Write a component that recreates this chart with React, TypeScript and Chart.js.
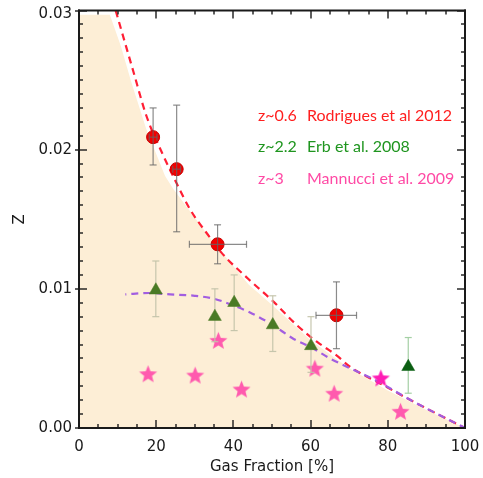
import React, { useEffect, useRef } from 'react';
import { Chart, registerables } from 'chart.js';

Chart.register(...registerables);

// Rodrigues et al 2012 (z~0.6)
const rodX = [19.2, 25.3, 35.9, 66.7];
const rodZ = [0.0209, 0.0186, 0.0132, 0.0081];
const rodXLo = [18.2, 24.3, 28.6, 61.4];
const rodXHi = [20.2, 26.3, 43.4, 71.9];
const rodZLo = [0.0189, 0.0141, 0.0118, 0.0057];
const rodZHi = [0.0230, 0.0232, 0.0146, 0.0105];

// Erb et al. 2008 (z~2.2)
const erbX = [19.9, 35.2, 40.2, 50.2, 60.1, 85.3];
const erbZ = [0.0099, 0.0080, 0.0090, 0.0074, 0.0059, 0.0044];
const erbZLo = [0.0080, 0.0062, 0.0070, 0.0055, 0.0040, 0.0025];
const erbZHi = [0.0120, 0.0100, 0.0110, 0.0095, 0.0080, 0.0065];

// Mannucci et al. 2009 (z~3)
const manX = [17.9, 30.1, 36.1, 42.1, 61.1, 66.1, 78.2, 83.3];
const manZ = [0.0039, 0.0038, 0.0063, 0.0028, 0.0043, 0.0025, 0.0036, 0.0012];

// red dashed model curve
const redCurveX = [9.5, 14.1, 17.5, 21.8, 24.9, 28.8, 33.9, 36.9, 44.3, 50.3, 56.4, 61.6, 66.8, 70.2, 78, 86.6, 100];
const redCurveZ = [0.0300, 0.0256, 0.0224, 0.0196, 0.0178, 0.0157, 0.0137, 0.0126, 0.0106, 0.0091, 0.0074, 0.0062, 0.0052, 0.0044, 0.0032, 0.0019, 0];

// purple dashed model curve
const purpleCurveX = [12, 18, 23.6, 30, 34.8, 40, 44.3, 50.2, 55.6, 60.1, 65, 70.2, 77.7, 86.6, 100];
const purpleCurveZ = [0.0096, 0.0097, 0.0096, 0.0095, 0.0093, 0.0088, 0.0083, 0.0074, 0.0064, 0.0058, 0.0050, 0.0043, 0.0033, 0.0019, 0];

// shaded region boundary
const shadeX = [0, 8.0, 10.9, 13.5, 17.4, 22.3, 24.4, 34.4, 44, 50.2, 60, 70, 80, 90, 100];
const shadeZ = [0.0297, 0.0297, 0.0274, 0.0249, 0.0215, 0.0181, 0.0172, 0.0135, 0.0103, 0.0088, 0.0063, 0.0043, 0.0027, 0.0013, 0];

const X_TICKS = [0, 20, 40, 60, 80, 100];
const Y_TICKS = [0, 0.01, 0.02, 0.03];
const X_TITLE = 'Gas Fraction [%]';
const Y_TITLE = 'Z';
const LEGEND_TAGS = ['z~0.6', 'z~2.2', 'z~3'];
const LEGEND_REFS = ['Rodrigues et al 2012', 'Erb et al. 2008', 'Mannucci et al. 2009'];
const LEGEND_COLORS = ['#ff1f1f', '#1f951f', '#ff4aa5'];

const ERB_INDEX = 4;

function makeStar(color: string, R: number): HTMLCanvasElement {
  const size = Math.ceil(R * 2 + 4);
  const c = document.createElement('canvas');
  c.width = size;
  c.height = size;
  const ctx = c.getContext('2d')!;
  const cx = size / 2;
  const cy = size / 2 + 0.095 * R;
  ctx.beginPath();
  for (let i = 0; i < 10; i++) {
    const r = i % 2 === 0 ? R : R * 0.43;
    const a = -Math.PI / 2 + (i * Math.PI) / 5;
    const px = cx + r * Math.cos(a);
    const py = cy + r * Math.sin(a);
    if (i === 0) ctx.moveTo(px, py);
    else ctx.lineTo(px, py);
  }
  ctx.closePath();
  ctx.fillStyle = color;
  ctx.fill();
  return c;
}

function seg(ctx: CanvasRenderingContext2D, x1: number, y1: number, x2: number, y2: number) {
  ctx.beginPath();
  ctx.moveTo(x1, y1);
  ctx.lineTo(x2, y2);
  ctx.stroke();
}

export default function App() {
  const ref = useRef<HTMLCanvasElement>(null);

  useEffect(() => {
    const canvas = ref.current!;
    const starPink = makeStar('#ff5aae', 9.5);
    const starMag = makeStar('#ff1cb4', 9.5);
    const starStyles = manX.map((_, i) => (i === 6 ? starMag : starPink));
    const erbColors = erbX.map((_, i) => (i === 5 ? '#0b5e12' : '#4a7a25'));

    const pts = (xs: number[], ys: number[]) => xs.map((x, i) => ({ x, y: ys[i] }));

    const plugin = {
      id: 'custom',
      beforeDatasetDraw(chart: any, args: any) {
        if (args.index !== ERB_INDEX) return;
        const ctx = chart.ctx as CanvasRenderingContext2D;
        const xs = chart.scales.x;
        const ys = chart.scales.y;
        ctx.save();
        ctx.setLineDash([]);
        ctx.lineWidth = 1.2;
        erbX.forEach((x, i) => {
          ctx.strokeStyle = i === 5 ? 'rgba(160,205,160,0.95)' : 'rgba(195,195,170,0.95)';
          const px = xs.getPixelForValue(x);
          const lo = ys.getPixelForValue(erbZLo[i]);
          const hi = ys.getPixelForValue(erbZHi[i]);
          seg(ctx, px, lo, px, hi);
          seg(ctx, px - 3.5, lo, px + 3.5, lo);
          seg(ctx, px - 3.5, hi, px + 3.5, hi);
        });
        ctx.restore();
      },
      afterDatasetsDraw(chart: any) {
        const ctx = chart.ctx as CanvasRenderingContext2D;
        const xs = chart.scales.x;
        const ys = chart.scales.y;
        ctx.save();
        ctx.setLineDash([]);
        ctx.lineWidth = 1.2;
        ctx.strokeStyle = 'rgba(100,100,100,0.75)';
        rodX.forEach((x, i) => {
          const px = xs.getPixelForValue(x);
          const py = ys.getPixelForValue(rodZ[i]);
          const lo = ys.getPixelForValue(rodZLo[i]);
          const hi = ys.getPixelForValue(rodZHi[i]);
          const xl = xs.getPixelForValue(rodXLo[i]);
          const xh = xs.getPixelForValue(rodXHi[i]);
          seg(ctx, px, lo, px, hi);
          seg(ctx, px - 3.5, lo, px + 3.5, lo);
          seg(ctx, px - 3.5, hi, px + 3.5, hi);
          seg(ctx, xl, py, xh, py);
          seg(ctx, xl, py - 3.5, xl, py + 3.5);
          seg(ctx, xh, py - 3.5, xh, py + 3.5);
        });
        ctx.restore();
      },
      afterDraw(chart: any) {
        const ctx = chart.ctx as CanvasRenderingContext2D;
        const xs = chart.scales.x;
        const ys = chart.scales.y;
        const L = xs.getPixelForValue(0);
        const R = xs.getPixelForValue(100);
        const B = ys.getPixelForValue(0);
        const T = ys.getPixelForValue(0.03);
        ctx.save();
        ctx.fillStyle = '#1a1a1a';
        // inward ticks (filled rectangles)
        for (let k = 0; k <= 20; k++) {
          const v = k * 5;
          const px = Math.round(xs.getPixelForValue(v));
          const len = v % 20 === 0 ? 8 : 4;
          ctx.fillRect(px - 0.7, B - len, 1.4, len);
          ctx.fillRect(px - 0.7, T, 1.4, len);
        }
        for (let k = 0; k <= 30; k++) {
          const py = Math.round(ys.getPixelForValue(k * 0.001));
          const major = k % 10 === 0;
          const len = major ? 8 : 4;
          ctx.fillRect(L - (major ? 4 : 0), py - 0.7, len + (major ? 4 : 0), 1.4);
          ctx.fillRect(R - len, py - 0.7, len, 1.4);
        }
        // frame
        ctx.fillRect(L - 1, T - 1, R - L + 2, 2);
        ctx.fillRect(L - 1, B - 1, R - L + 2, 2);
        ctx.fillRect(L - 1, T - 1, 2, B - T + 2);
        ctx.fillRect(R - 1, T - 1, 2, B - T + 2);

        // tick labels
        ctx.font = '15px "DejaVu Sans"';
        ctx.textBaseline = 'middle';
        ctx.textAlign = 'right';
        Y_TICKS.forEach((v) => {
          const py = Math.max(ys.getPixelForValue(v), 14);
          ctx.fillText(v.toFixed(2), L - 7, py);
        });
        ctx.textAlign = 'center';
        X_TICKS.forEach((v) => {
          ctx.fillText(String(v), xs.getPixelForValue(v), 447);
        });

        // axis titles
        ctx.fillText(X_TITLE, (L + R) / 2, 467);
        ctx.save();
        ctx.translate(20, (T + B) / 2);
        ctx.rotate(-Math.PI / 2);
        ctx.fillText(Y_TITLE, 0, 0);
        ctx.restore();

        // legend text
        ctx.font = '16px Lato';
        ctx.textAlign = 'left';
        const rows = [116, 147, 179];
        LEGEND_TAGS.forEach((t, i) => {
          ctx.fillStyle = LEGEND_COLORS[i];
          ctx.fillText(t, 258, rows[i]);
          ctx.fillText(LEGEND_REFS[i], 307, rows[i]);
        });
        ctx.restore();
      },
    };

    const chart = new Chart(canvas, {
      type: 'scatter',
      data: {
        datasets: [
          {
            type: 'line',
            data: pts(shadeX, shadeZ),
            fill: 'origin',
            backgroundColor: 'rgb(253,238,214)',
            borderWidth: 0,
            borderColor: 'rgba(0,0,0,0)',
            pointRadius: 0,
            tension: 0,
            order: 10,
          } as any,
          {
            type: 'line',
            data: pts(redCurveX, redCurveZ),
            fill: false,
            borderColor: '#ff1f35',
            borderWidth: 2.2,
            borderDash: [7, 5],
            pointRadius: 0,
            cubicInterpolationMode: 'monotone',
            order: 6,
          } as any,
          {
            type: 'line',
            data: pts(purpleCurveX, purpleCurveZ),
            fill: false,
            borderColor: '#a25ee0',
            borderWidth: 2.2,
            borderDash: [7, 5],
            borderDashOffset: 6,
            pointRadius: 0,
            cubicInterpolationMode: 'monotone',
            order: 5,
          } as any,
          {
            data: pts(rodX, rodZ),
            pointStyle: 'circle',
            pointRadius: 6.5,
            backgroundColor: '#f20000',
            borderColor: '#c80000',
            borderWidth: 1,
            order: 1,
          } as any,
          {
            data: pts(erbX, erbZ),
            pointStyle: 'triangle',
            pointRadius: 7.5,
            backgroundColor: erbColors,
            borderColor: erbColors,
            borderWidth: 0.5,
            order: 2,
          } as any,
          {
            data: pts(manX, manZ),
            pointStyle: starStyles,
            pointRadius: 9.5,
            order: 3,
          } as any,
        ],
      },
      options: {
        animation: false,
        responsive: false,
        devicePixelRatio: 1,
        events: [],
        layout: { padding: { left: 0, right: 18, top: 8, bottom: 0 } },
        plugins: { legend: { display: false }, tooltip: { enabled: false } },
        scales: {
          x: {
            type: 'linear',
            min: 0,
            max: 100,
            afterFit: (s: any) => {
              s.height = 50;
            },
            ticks: { display: false },
            grid: { display: false, drawTicks: false },
            border: { display: false },
          },
          y: {
            type: 'linear',
            min: 0,
            max: 0.03,
            afterFit: (s: any) => {
              s.width = 79;
            },
            ticks: { display: false },
            grid: { display: false, drawTicks: false },
            border: { display: false },
          },
        },
      } as any,
      plugins: [plugin],
    });

    return () => chart.destroy();
  }, []);

  return (
    <div style={{ position: 'absolute', left: 0, top: 0, width: 483, height: 478 }}>
      <canvas ref={ref} width={483} height={478} style={{ display: 'block' }} />
    </div>
  );
}
